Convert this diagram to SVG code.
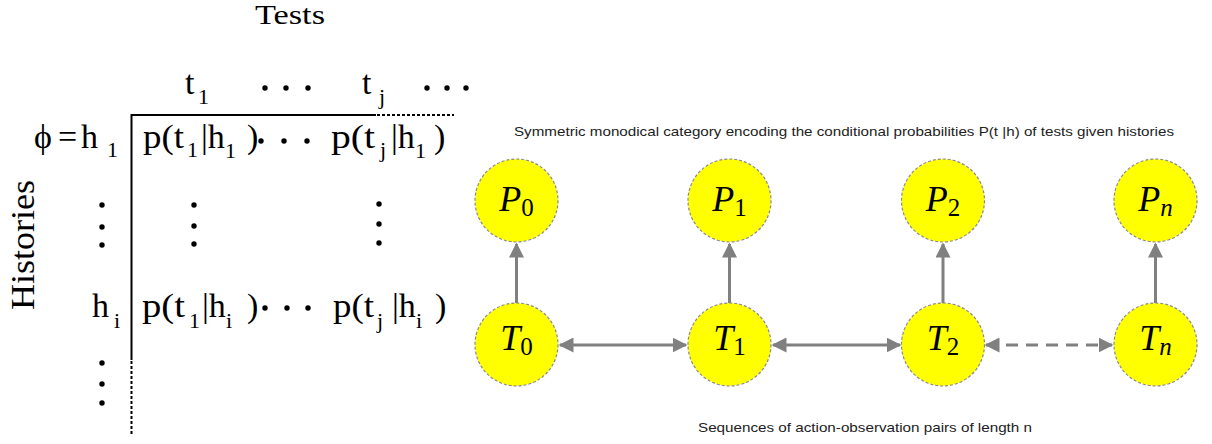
<svg xmlns="http://www.w3.org/2000/svg" width="1212" height="444" viewBox="0 0 1212 444">
<style>
  .m{font-family:"Liberation Serif","Times New Roman",serif;font-size:34px;fill:#000}
  .s{font-family:"Liberation Serif","Times New Roman",serif;font-size:22px;fill:#000}
  .lab{font-family:"Liberation Sans",Arial,sans-serif;font-size:13px;fill:#222}
  .node{fill:#ffff00;stroke:#8a8a8a;stroke-width:1.2;stroke-dasharray:3 2}
  .nl{font-family:"Liberation Serif","Times New Roman",serif;font-size:36px;font-style:italic;fill:#000}
  .sub{font-style:normal;font-size:25px}
  .subi{font-style:italic;font-size:25px}
  .c{stroke:#808080;stroke-width:3;fill:none}
  .dot{fill:#000}
</style>
<defs>
  <marker id="ah" viewBox="0 0 10 10" refX="9" refY="5" markerWidth="5" markerHeight="5" orient="auto-start-reverse" markerUnits="strokeWidth">
    <path d="M0,0 L10,5 L0,10 z" fill="#808080"/>
  </marker>
</defs>

<!-- Left: matrix -->
<g id="matrix">
  <text class="m" x="255" y="24" style="font-size:27px" textLength="70" lengthAdjust="spacingAndGlyphs">Tests</text>
  <text class="m" transform="translate(34,245) rotate(-90)" style="font-size:34px" text-anchor="middle" textLength="130" lengthAdjust="spacingAndGlyphs">Histories</text>

  <!-- column headers -->
  <text class="m" x="185" y="94">t</text>
  <text class="s" x="198" y="104">1</text>
  <circle class="dot" cx="265" cy="88" r="2.7"/>
  <circle class="dot" cx="286" cy="88" r="2.7"/>
  <circle class="dot" cx="308" cy="88" r="2.7"/>
  <text class="m" x="362" y="94">t</text>
  <text class="s" x="379" y="104">j</text>
  <circle class="dot" cx="427" cy="88" r="2.7"/>
  <circle class="dot" cx="447" cy="88" r="2.7"/>
  <circle class="dot" cx="466" cy="88" r="2.7"/>

  <!-- axes -->
  <line x1="131" y1="115" x2="376" y2="115" stroke="#000" stroke-width="2"/>
  <line x1="377" y1="115" x2="454" y2="115" stroke="#000" stroke-width="2" stroke-dasharray="3 2"/>
  <line x1="131.5" y1="114" x2="131.5" y2="360" stroke="#000" stroke-width="2"/>
  <line x1="131.5" y1="361" x2="131.5" y2="434" stroke="#000" stroke-width="2" stroke-dasharray="3 2"/>

  <!-- row 1 -->
  <text class="m" x="34" y="148">ϕ</text>
  <text class="m" x="58" y="148">=</text>
  <text class="m" x="81" y="148">h</text>
  <text class="s" x="107" y="157">1</text>
  <text class="m" x="143" y="148" textLength="41" lengthAdjust="spacingAndGlyphs">p(t</text>
  <text class="s" x="187" y="157">1</text>
  <text class="m" x="201" y="148">|h</text>
  <text class="s" x="225" y="158">1</text>
  <text class="m" x="247" y="148">)</text>
  <circle class="dot" cx="261" cy="141" r="2.7"/>
  <circle class="dot" cx="284" cy="141" r="2.7"/>
  <circle class="dot" cx="307" cy="141" r="2.7"/>
  <text class="m" x="331" y="148" textLength="44" lengthAdjust="spacingAndGlyphs">p(t</text>
  <text class="s" x="380" y="157">j</text>
  <text class="m" x="391" y="148">|h</text>
  <text class="s" x="415" y="158">1</text>
  <text class="m" x="434" y="148">)</text>

  <!-- vertical dots -->
  <circle class="dot" cx="102" cy="205" r="2.7"/>
  <circle class="dot" cx="102" cy="227" r="2.7"/>
  <circle class="dot" cx="102" cy="245" r="2.7"/>
  <circle class="dot" cx="194" cy="205" r="2.7"/>
  <circle class="dot" cx="194" cy="226" r="2.7"/>
  <circle class="dot" cx="194" cy="244" r="2.7"/>
  <circle class="dot" cx="379" cy="204" r="2.7"/>
  <circle class="dot" cx="379" cy="224" r="2.7"/>
  <circle class="dot" cx="379" cy="243" r="2.7"/>
  <circle class="dot" cx="102" cy="363" r="2.7"/>
  <circle class="dot" cx="102" cy="384" r="2.7"/>
  <circle class="dot" cx="102" cy="403" r="2.7"/>

  <!-- row i -->
  <text class="m" x="92" y="317">h</text>
  <text class="s" x="114" y="328">i</text>
  <text class="m" x="142" y="317" textLength="43" lengthAdjust="spacingAndGlyphs">p(t</text>
  <text class="s" x="189" y="328">1</text>
  <text class="m" x="202" y="317">|h</text>
  <text class="s" x="226" y="328">i</text>
  <text class="m" x="247" y="317">)</text>
  <circle class="dot" cx="265" cy="308" r="2.7"/>
  <circle class="dot" cx="287" cy="308" r="2.7"/>
  <circle class="dot" cx="308" cy="308" r="2.7"/>
  <text class="m" x="333" y="317" textLength="41" lengthAdjust="spacingAndGlyphs">p(t</text>
  <text class="s" x="377" y="328">j</text>
  <text class="m" x="392" y="317">|h</text>
  <text class="s" x="416" y="328">i</text>
  <text class="m" x="435" y="317">)</text>
</g>

<!-- Right: graph labels -->
<text class="lab" x="514" y="136" textLength="660" lengthAdjust="spacingAndGlyphs">Symmetric monodical category encoding the conditional probabilities P(t |h) of tests given histories</text>
<text class="lab" x="698" y="432" textLength="334" lengthAdjust="spacingAndGlyphs">Sequences of action-observation pairs of length n</text>

<!-- connectors -->
<g id="connectors">
  <line class="c" x1="516.5" y1="303" x2="516.5" y2="244" marker-end="url(#ah)"/>
  <line class="c" x1="729.5" y1="303" x2="729.5" y2="244" marker-end="url(#ah)"/>
  <line class="c" x1="943" y1="303" x2="943" y2="244" marker-end="url(#ah)"/>
  <line class="c" x1="1155.5" y1="303" x2="1155.5" y2="244" marker-end="url(#ah)"/>
  <line class="c" x1="560" y1="345" x2="686" y2="345" marker-start="url(#ah)" marker-end="url(#ah)"/>
  <line class="c" x1="773" y1="345" x2="900" y2="345" marker-start="url(#ah)" marker-end="url(#ah)"/>
  <line class="c" x1="986" y1="345" x2="1112" y2="345" stroke-dasharray="12 8" marker-start="url(#ah)" marker-end="url(#ah)"/>
</g>

<!-- nodes -->
<g id="P0"><circle class="node" cx="516.5" cy="200.5" r="41.5"/><text class="nl" x="516.5" y="211" text-anchor="middle">P<tspan class="sub" dy="5">0</tspan></text></g>
<g id="P1"><circle class="node" cx="729.5" cy="200.5" r="41.5"/><text class="nl" x="729.5" y="211" text-anchor="middle">P<tspan class="sub" dy="5">1</tspan></text></g>
<g id="P2"><circle class="node" cx="943" cy="200.5" r="41.5"/><text class="nl" x="943" y="211" text-anchor="middle">P<tspan class="sub" dy="5">2</tspan></text></g>
<g id="Pn"><circle class="node" cx="1155.5" cy="200.5" r="41.5"/><text class="nl" x="1155.5" y="211" text-anchor="middle">P<tspan class="subi" dy="5">n</tspan></text></g>
<g id="T0"><circle class="node" cx="516.5" cy="344.5" r="41.5"/><text class="nl" x="516.5" y="350" text-anchor="middle">T<tspan class="sub" dy="5">0</tspan></text></g>
<g id="T1"><circle class="node" cx="729.5" cy="344.5" r="41.5"/><text class="nl" x="729.5" y="350" text-anchor="middle">T<tspan class="sub" dy="5">1</tspan></text></g>
<g id="T2"><circle class="node" cx="943" cy="344.5" r="41.5"/><text class="nl" x="943" y="350" text-anchor="middle">T<tspan class="sub" dy="5">2</tspan></text></g>
<g id="Tn"><circle class="node" cx="1155.5" cy="344.5" r="41.5"/><text class="nl" x="1155.5" y="350" text-anchor="middle">T<tspan class="subi" dy="5">n</tspan></text></g>
</svg>
